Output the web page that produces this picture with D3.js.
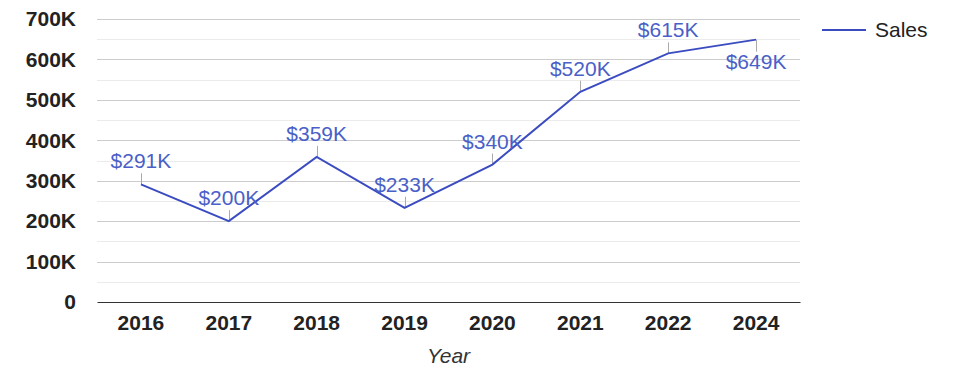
<!DOCTYPE html>
<html>
<head>
<meta charset="utf-8">
<script src="https://cdn.jsdelivr.net/npm/d3@7"></script>
<style>
  body { margin: 0; background: #fff; }
  svg { font-family: "Liberation Sans", Arial, sans-serif; }
</style>
</head>
<body>
<div id="wrapper"></div>
<script>
const years = ["2016", "2017", "2018", "2019", "2020", "2021", "2022", "2024"]
const sales = [291000, 200000, 359000, 233000, 340000, 520000, 615000, 649000]
const labelBelow = [false, false, false, false, false, false, false, true]
const yTicks = [0, 100000, 200000, 300000, 400000, 500000, 600000, 700000]
const seriesName = "Sales"

function drawLine() {
    const dataset = years.map((y, i) => ({ year: y, value: sales[i], below: labelBelow[i] }))
    const xAccessor = d => d.year
    const yAccessor = d => d.value

    let dimensions = {
        width: 975,
        height: 378,
        margin: { top: 19, right: 175, bottom: 76, left: 97 },
    }
    dimensions.boundedWidth = dimensions.width - dimensions.margin.left - dimensions.margin.right
    dimensions.boundedHeight = dimensions.height - dimensions.margin.top - dimensions.margin.bottom

    const wrapper = d3.select("#wrapper")
        .append("svg")
        .attr("width", dimensions.width)
        .attr("height", dimensions.height)

    const bounds = wrapper.append("g")
        .attr("transform", `translate(${dimensions.margin.left},${dimensions.margin.top})`)

    const xScale = d3.scaleBand()
        .domain(years)
        .range([0, dimensions.boundedWidth])

    const yScale = d3.scaleLinear()
        .domain([0, 700000])
        .range([dimensions.boundedHeight, 0])

    // minor gridlines every 50K
    bounds.append("g")
        .selectAll("line")
        .data(yTicks.slice(0, -1).map(t => t + 50000))
        .join("line")
        .attr("x1", 0)
        .attr("x2", dimensions.boundedWidth)
        .attr("y1", d => Math.round(yScale(d)) + 0.5)
        .attr("y2", d => Math.round(yScale(d)) + 0.5)
        .attr("stroke", "#ebebeb")

    // major gridlines
    bounds.append("g")
        .selectAll("line")
        .data(yTicks.slice(1))
        .join("line")
        .attr("x1", 0)
        .attr("x2", dimensions.boundedWidth)
        .attr("y1", d => Math.round(yScale(d)) + 0.5)
        .attr("y2", d => Math.round(yScale(d)) + 0.5)
        .attr("stroke", "#cccccc")

    const yAxisGenerator = d3.axisLeft(yScale)
        .tickValues(yTicks)
        .tickSize(0)
        .tickPadding(21)
        .tickFormat(d => d === 0 ? "0" : d3.format("d")(d / 1000) + "K")

    const yAxis = bounds.append("g").call(yAxisGenerator)
    yAxis.select(".domain").remove()
    yAxis.selectAll("text")
        .attr("font-size", 21)
        .attr("font-weight", "bold")
        .attr("fill", "#222")
        .attr("font-family", "Liberation Sans, Arial, sans-serif")

    const xAxisGenerator = d3.axisBottom(xScale)
        .tickSize(0)
        .tickPadding(13)

    const xAxis = bounds.append("g")
        .attr("transform", `translate(0,${dimensions.boundedHeight})`)
        .call(xAxisGenerator)
    xAxis.select(".domain").attr("stroke", "#333").attr("stroke-width", 1.2)
    xAxis.selectAll("text")
        .attr("font-size", 21)
        .attr("font-weight", "bold")
        .attr("fill", "#222")
        .attr("font-family", "Liberation Sans, Arial, sans-serif")

    xAxis.append("text")
        .attr("x", dimensions.boundedWidth / 2)
        .attr("y", 61)
        .attr("fill", "#333")
        .attr("font-size", 21)
        .attr("font-style", "italic")
        .attr("text-anchor", "middle")
        .text("Year")

    const cx = d => xScale(xAccessor(d)) + xScale.bandwidth() / 2

    // leader lines
    bounds.append("g")
        .selectAll("line")
        .data(dataset)
        .join("line")
        .attr("x1", d => Math.round(cx(d)) + 0.5)
        .attr("x2", d => Math.round(cx(d)) + 0.5)
        .attr("y1", d => yScale(yAccessor(d)))
        .attr("y2", d => yScale(yAccessor(d)) + (d.below ? 12 : -11))
        .attr("stroke", "#aaaaaa")
        .attr("stroke-width", 1)

    const lineGenerator = d3.line()
        .x(cx)
        .y(d => yScale(yAccessor(d)))

    bounds.append("path")
        .datum(dataset)
        .attr("d", lineGenerator)
        .attr("fill", "none")
        .attr("stroke", "#3b4cc0")
        .attr("stroke-width", 2)

    bounds.append("g")
        .selectAll("text")
        .data(dataset)
        .join("text")
        .attr("x", cx)
        .attr("y", d => yScale(yAccessor(d)) + (d.below ? 29 : -16))
        .attr("text-anchor", "middle")
        .attr("font-size", 21)
        .attr("fill", "#4a5fc8")
        .text(d => "$" + d3.format("d")(d.value / 1000) + "K")

    // legend
    const legend = wrapper.append("g")
        .attr("transform", "translate(822,30)")
    legend.append("line")
        .attr("x1", 0).attr("x2", 44)
        .attr("stroke", "#3b4cc0")
        .attr("stroke-width", 2)
    legend.append("text")
        .attr("x", 53)
        .attr("y", 7)
        .attr("font-size", 21)
        .attr("fill", "#222")
        .text(seriesName)
}

drawLine()
</script>
</body>
</html>
